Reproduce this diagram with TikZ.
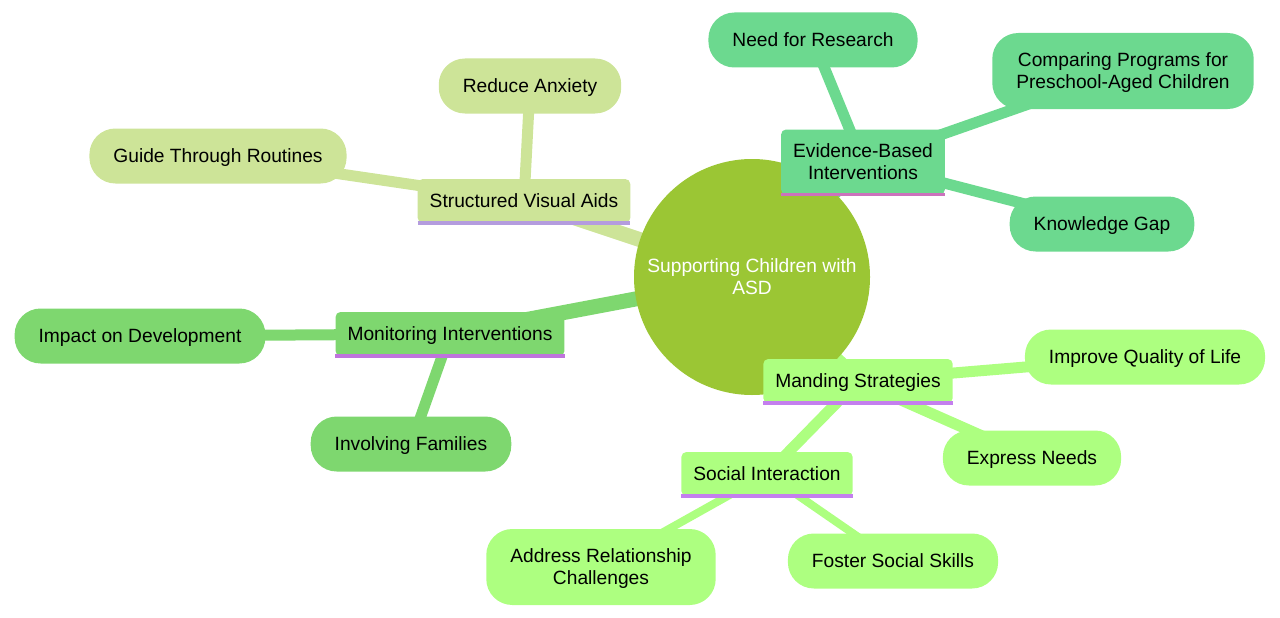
\documentclass[tikz,border=0pt]{standalone}
\usepackage{fontspec}
\setmainfont{Liberation Sans}
\usetikzlibrary{backgrounds}

\definecolor{rootgreen}{HTML}{9BC634}
\definecolor{svafill}{HTML}{CDE498}
\definecolor{ebifill}{HTML}{6CD98F}
\definecolor{monfill}{HTML}{7ED76F}
\definecolor{manfill}{HTML}{ADFF80}
\definecolor{svaline}{HTML}{B49CDE}
\definecolor{ebiline}{HTML}{CC72BC}
\definecolor{monline}{HTML}{BF74DC}
\definecolor{manline}{HTML}{C47FEE}

\begin{document}
\begin{tikzpicture}[x=1pt, y=-1pt,
  txt/.style={font=\fontsize{19.2}{22}\selectfont, align=center, text=black, text depth=0pt},
  root/.style={txt, circle, fill=rootgreen, minimum size=236pt, text=white},
  sect/.style={txt, rounded corners=5pt, minimum height=44pt, inner xsep=12pt},
  leaf/.style={txt, rounded corners=26pt, minimum height=55pt, inner xsep=24pt},
  mainlink/.style={line width=15pt},
  sublink/.style={line width=11pt},
  leaflink/.style={line width=8pt},
  uline/.style={line width=3.5pt}]
\useasboundingbox (0,0) rectangle (1280,618);

\node[root] (asd) at (752,277) {Supporting Children with\\ASD};

% structured visual aids
\node[sect, fill=svafill] (sva) at (524,201) {Structured Visual Aids};
\node[leaf, fill=svafill] (anx) at (530,86) {Reduce Anxiety};
\node[leaf, fill=svafill] (rout) at (218,156) {Guide Through Routines};

% evidence-based interventions
\node[sect, fill=ebifill, minimum height=65pt] (ebi) at (863,162) {Evidence-Based\\Interventions};
\node[leaf, fill=ebifill] (need) at (813,40) {Need for Research};
\node[leaf, fill=ebifill, minimum height=76pt] (comp) at (1123,71) {Comparing Programs for\\Preschool-Aged Children};
\node[leaf, fill=ebifill] (gap) at (1102,224) {Knowledge Gap};

% monitoring interventions
\node[sect, fill=monfill] (mon) at (450,334) {Monitoring Interventions};
\node[leaf, fill=monfill] (imp) at (140,336) {Impact on Development};
\node[leaf, fill=monfill] (fam) at (411,444) {Involving Families};

% manding strategies
\node[sect, fill=manfill] (man) at (858,381) {Manding Strategies};
\node[leaf, fill=manfill] (qol) at (1145,357) {Improve Quality of Life};
\node[leaf, fill=manfill] (expr) at (1032,458) {Express Needs};
\node[sect, fill=manfill] (soc) at (767,474) {Social Interaction};
\node[leaf, fill=manfill, minimum height=76pt] (rel) at (601,567) {Address Relationship\\Challenges};
\node[leaf, fill=manfill] (fost) at (893,561) {Foster Social Skills};

% underlines
\draw[uline, svaline] (sva.south west) -- (sva.south east);
\draw[uline, ebiline] (ebi.south west) -- (ebi.south east);
\draw[uline, monline] (mon.south west) -- (mon.south east);
\draw[uline, manline] (man.south west) -- (man.south east);
\draw[uline, manline] (soc.south west) -- (soc.south east);

\begin{scope}[on background layer]
\draw[mainlink, svafill] (asd.center) -- (sva.center);
\draw[mainlink, ebifill] (asd.center) -- (ebi.center);
\draw[mainlink, monfill] (asd.center) -- (mon.center);
\draw[mainlink, manfill] (asd.center) -- (man.center);
\draw[sublink, svafill] (sva.center) -- (anx.center);
\draw[sublink, svafill] (sva.center) -- (rout.center);
\draw[sublink, ebifill] (ebi.center) -- (need.center);
\draw[sublink, ebifill] (ebi.center) -- (comp.center);
\draw[sublink, ebifill] (ebi.center) -- (gap.center);
\draw[sublink, monfill] (mon.center) -- (imp.center);
\draw[sublink, monfill] (mon.center) -- (fam.center);
\draw[sublink, manfill] (man.center) -- (qol.center);
\draw[sublink, manfill] (man.center) -- (expr.center);
\draw[sublink, manfill] (man.center) -- (soc.center);
\draw[leaflink, manfill] (soc.center) -- (rel.center);
\draw[leaflink, manfill] (soc.center) -- (fost.center);
\end{scope}
\end{tikzpicture}
\end{document}
